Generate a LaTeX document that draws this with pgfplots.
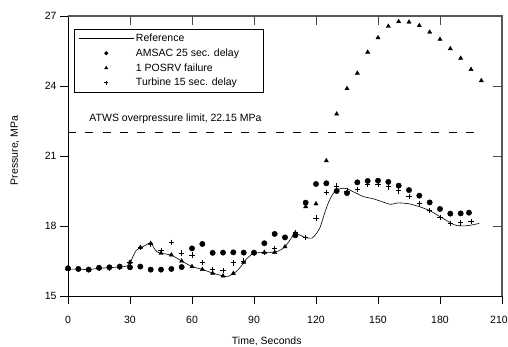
\documentclass[border=0pt]{standalone}
\usepackage{fontspec}
\setmainfont{Liberation Sans}
\usepackage{pgfplots}
\pgfplotsset{compat=1.18}
\newcommand{\fs}{\fontsize{10.5}{12.6}\selectfont}
\pgfplotsset{
  legline/.style={legend image code/.code={\draw[##1] (0pt,0pt) -- (55pt,0pt);}},
  legmark/.style={legend image code/.code={\path[draw=none,fill=none] (0pt,-1pt) rectangle (55pt,1pt); \draw[##1, mark size=#1] plot coordinates {(27.5pt,0pt)};}},
}
\begin{document}
\begin{tikzpicture}[font=\fs]
\useasboundingbox (0pt,0pt) rectangle (508pt,347pt);
\begin{axis}[
  at={(68pt,51pt)}, anchor=south west,
  width=434pt, height=280pt, scale only axis,
  xmin=0, xmax=210, ymin=15, ymax=27,
  xtick={0,30,...,180}, ytick={15,18,...,27},
  extra x ticks={210},
  extra x tick style={xticklabel style={xshift=-3pt}},
  xtick pos=left, ytick pos=left, tick align=outside,
  major tick length=8pt, minor tick num=0,
  tick style={black, line width=0.6pt},
  axis line style={draw=none},
  /pgf/number format/assume math mode=true,
  tick label style={font=\fs},
  xticklabel style={yshift=-9pt},
  label style={font=\fs},
  clip=false,
  xlabel={Time, Seconds},
  ylabel={Pressure, MPa},
  xlabel style={at={(axis description cs:0.458,0)}, anchor=base, yshift=-49pt},
  ylabel style={at={(axis description cs:-0.122,0.52)}, anchor=center},
  legend style={at={(axis description cs:0.0138,0.9536)}, anchor=north west,
    draw=black, line width=0.8pt, font=\fs, row sep=1.7pt,
    inner xsep=4pt, inner ysep=2.5pt},
  legend cell align=left,
]
\addplot[black, line width=0.6pt, smooth, tension=0.4, legline]
coordinates {
(0,16.15) (5,16.15) (10,16.13) (15,16.19) (20,16.21) (25,16.25) (28,16.27)
(30,16.42) (32,16.8) (33,16.95) (35,17.06) (37,17.15) (39,17.25) (40.5,17.23)
(42,17.0) (43.5,16.87) (45,16.83) (50,16.75) (55,16.5) (60,16.26) (65,16.14)
(70,15.98) (75,15.86) (77,15.83) (80,15.95) (82,16.1) (84,16.3) (86,16.55)
(88,16.72) (90,16.83) (95,16.87) (100,16.88) (103,16.98) (105,17.11) (107,17.35)
(109,17.6) (110,17.68) (112,17.62) (115,17.5) (118,17.48) (120,17.65) (122,17.95)
(124,18.5) (126,19.0) (128,19.35) (130,19.55) (133,19.62) (135,19.6) (138,19.47)
(143,19.26) (148,19.16) (152,19.04) (156,18.93) (160,18.99) (165,18.95)
(170,18.83) (175,18.66) (180,18.4) (185,18.14) (188,18.02) (193,18.01) (199,18.11)
};
\addlegendentry{Reference}
\addplot[only marks, mark=*, mark size=2.7pt, black, legmark=1.6pt]
coordinates {
(0,16.19) (5,16.16) (10,16.13) (15,16.21) (20,16.23) (25,16.26) (30,16.23)
(35,16.26) (40,16.13) (45,16.13) (50,16.16) (55,16.24) (60,17.04) (65,17.23)
(70,16.85) (75,16.86) (80,16.87) (85,16.86) (90,16.86) (95,17.26) (100,17.66)
(105,17.51) (110,17.6) (115,19.0) (120,19.8) (125,19.83) (130,19.5) (135,19.41)
(140,19.87) (145,19.93) (150,19.94) (155,19.89) (160,19.73) (165,19.54)
(170,19.3) (175,19.01) (180,18.73) (185,18.53) (190,18.54) (194,18.57)
};
\addlegendentry{AMSAC 25 sec. delay}
\addplot[only marks, mark=triangle*, mark size=2.4pt, black, legmark=1.6pt]
coordinates {
(0,16.15) (5,16.15) (10,16.13) (15,16.19) (20,16.21) (25,16.25) (30,16.45)
(35,17.08) (40,17.25) (45,16.83) (50,16.76) (55,16.5) (60,16.26) (65,16.14)
(70,15.98) (75,15.86) (80,15.97) (85,16.45) (90,16.83) (95,16.87) (100,16.87)
(105,17.11) (110,17.7) (115,18.83) (120,18.95) (125,20.8) (130,22.8) (135,23.89)
(140,24.55) (145,25.45) (150,26.07) (155,26.56) (160,26.76) (165,26.74)
(170,26.59) (175,26.31) (180,26.0) (185,25.6) (190,25.19) (195,24.71) (200,24.23)
};
\addlegendentry{1 POSRV failure}
\addplot[only marks, mark=+, mark size=2.8pt, black, line width=0.9pt, legmark=1.8pt]
coordinates {
(0,16.15) (5,16.15) (10,16.13) (15,16.19) (20,16.21) (25,16.25) (30,16.42)
(35,17.07) (40,17.24) (45,16.94) (50,17.29) (55,16.83) (60,16.75) (65,16.43)
(70,16.13) (75,16.1) (80,16.42) (85,16.5) (90,16.85) (95,16.87) (100,17.04)
(105,17.5) (110,17.72) (115,17.5) (120,18.33) (125,19.44) (130,19.71) (135,19.5)
(140,19.57) (145,19.79) (150,19.79) (155,19.68) (160,19.51) (165,19.26)
(170,18.97) (175,18.66) (180,18.36) (185,18.11) (190,18.14) (195,18.19)
};
\addlegendentry{Turbine 15 sec. delay\hspace*{20pt}}
\addplot[black, line width=0.8pt, dash pattern=on 8pt off 9.3pt, forget plot]
coordinates {(0,22.0) (197,22.0)};
\node[anchor=base west, inner sep=0pt] at (axis cs:10.3,22.47) {ATWS overpressure limit, 22.15 MPa};
\draw[black, line width=0.8pt] (rel axis cs:0,1) -- (rel axis cs:0,0) -- (rel axis cs:1,0);
\draw[black!65, line width=1.4pt] (rel axis cs:0,1) -- (rel axis cs:1,1) -- (rel axis cs:1,0);
\end{axis}
\begin{axis}[
  at={(68pt,51pt)}, anchor=south west,
  width=434pt, height=280pt, scale only axis,
  xmin=0, xmax=210, ymin=15, ymax=27,
  xtick={30,60,...,180}, ytick={18,21,24},
  xtick pos=right, ytick pos=right, tick align=inside,
  major tick length=9pt, minor tick num=0,
  tick style={black!70, line width=0.8pt},
  xticklabels={}, yticklabels={},
  axis line style={draw=none},
]
\end{axis}
\end{tikzpicture}
\end{document}
